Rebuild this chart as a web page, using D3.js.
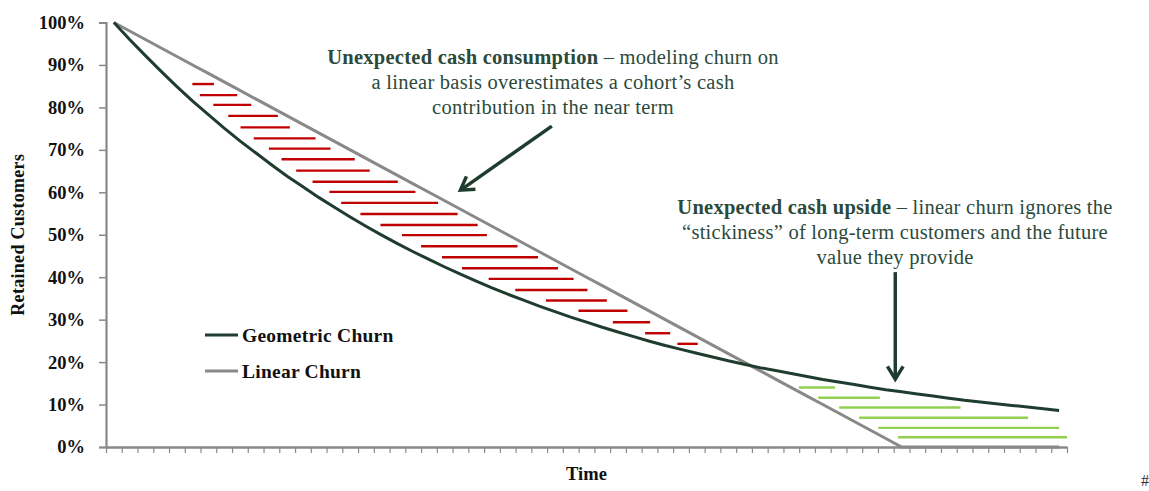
<!DOCTYPE html>
<html>
<head>
<meta charset="utf-8">
<script src="https://cdn.jsdelivr.net/npm/d3@7"></script>
<style>
  body { margin: 0; background: #fff; }
  text { font-family: "Liberation Serif", "DejaVu Serif", serif; }
</style>
</head>
<body>
<div id="chart"></div>
<script>
// time periods (categories)
var periods = d3.range(61);

// retained customers, % of cohort
var geometric = [100, 96, 92.2, 88.5, 84.9, 81.5, 78.3, 75.1, 72.1, 69.3,
    66.5, 63.8, 61.3, 58.8, 56.5, 54.2, 52.0, 49.9, 47.9, 46.0,
    44.2, 42.4, 40.7, 39.1, 37.5, 36.0, 34.6, 33.2, 31.9, 30.6,
    29.4, 28.2, 27.1, 26.0, 24.9, 23.9, 23.0, 22.1, 21.2, 20.3,
    19.5, 18.7, 18.0, 17.3, 16.6, 15.9, 15.3, 14.7, 14.1, 13.5,
    13.0, 12.5, 12.0, 11.5, 11.0, 10.6, 10.2, 9.8, 9.4, 9.0, 8.6];
var linear = [100, 98, 96, 94, 92, 90, 88, 86, 84, 82,
    80, 78, 76, 74, 72, 70, 68, 66, 64, 62,
    60, 58, 56, 54, 52, 50, 48, 46, 44, 42,
    40, 38, 36, 34, 32, 30, 28, 26, 24, 22,
    20, 18, 16, 14, 12, 10, 8, 6, 4, 2,
    0, 0, 0, 0, 0, 0, 0, 0, 0, 0, 0];

var yTicks = [0, 10, 20, 30, 40, 50, 60, 70, 80, 90, 100];

// hatch between the curves: level (%), start and end (period)
var redLevel = [85.5, 82.9, 80.6, 78.0, 75.3, 72.7, 70.3, 67.8, 65.1, 62.5, 60.1, 57.5, 54.9,
    52.3, 49.9, 47.3, 44.7, 42.1, 39.6, 37.0, 34.5, 32.1, 29.4, 26.8, 24.3];
var redStart = [4.98, 5.46, 6.31, 7.26, 8.04, 8.88, 9.84, 10.64, 11.57, 12.61, 13.68, 14.43, 15.65,
    16.92, 18.29, 19.5, 20.83, 22.1, 23.79, 25.48, 27.43, 29.49, 31.67, 33.72, 35.77];
var redEnd = [6.35, 7.83, 8.72, 10.41, 11.17, 12.8, 13.75, 15.29, 16.24, 18.02, 19.14, 20.58, 21.82,
    23.09, 23.68, 25.62, 26.92, 28.19, 29.18, 30.06, 31.29, 32.6, 34.04, 35.31, 37.06];

var greenLevel = [14.0, 11.6, 9.3, 6.9, 4.5, 2.3];
var greenStart = [43.48, 44.71, 46.04, 47.31, 48.52, 49.78];
var greenEnd = [45.77, 48.62, 53.74, 58.03, 60.0, 60.5];

function init()
{
    const width = 1149;
    const height = 491;
    var dark = "#1f3d2e";
    var grey = "#898989";
    var textColor = "#2b4a3b";

    var svg = d3.select("#chart")
        .append("svg")
        .attr("width", width)
        .attr("height", height);

    svg.append("rect")
        .attr("width", width)
        .attr("height", height)
        .attr("fill", "#fff");

    var x = d3.scaleLinear()
        .domain([-0.5, periods.length - 0.5])
        .range([106, 1067]);

    var y = d3.scaleLinear()
        .domain([0, 100])
        .range([447, 22.5]);

    // y axis
    var yAxis = svg.append("g")
        .attr("transform", "translate(" + x(-0.5) + ",0)")
        .call(d3.axisLeft(y).tickValues(yTicks).tickSize(7).tickPadding(14)
            .tickFormat(function(d){ return d + "%"; }));
    yAxis.select(".domain").attr("stroke", grey).attr("stroke-width", 2.2);
    yAxis.selectAll(".tick line").attr("stroke", grey).attr("stroke-width", 1.5);
    yAxis.selectAll(".tick text")
        .attr("fill", "#111")
        .attr("font-size", 18.5)
        .attr("font-weight", "bold")
        .attr("font-family", "Liberation Serif");

    // x axis
    var bounds = d3.range(periods.length + 1).map(function(i){ return i - 0.5; });
    var xAxis = svg.append("g")
        .attr("transform", "translate(0," + y(0) + ")")
        .call(d3.axisBottom(x).tickValues(bounds).tickSize(6).tickSizeOuter(0)
            .tickFormat(""));
    xAxis.select(".domain").attr("stroke", grey).attr("stroke-width", 2.6);
    xAxis.selectAll(".tick line").attr("stroke", grey).attr("stroke-width", 1.2);

    // axis titles
    svg.append("text")
        .attr("transform", "translate(24," + y(50) + ") rotate(-90)")
        .attr("text-anchor", "middle")
        .attr("font-size", 18)
        .attr("font-weight", "bold")
        .attr("letter-spacing", 0.3)
        .attr("fill", "#111")
        .text("Retained Customers");

    svg.append("text")
        .attr("x", x(30))
        .attr("y", 480)
        .attr("text-anchor", "middle")
        .attr("font-size", 18.5)
        .attr("font-weight", "bold")
        .attr("fill", "#111")
        .text("Time");

    // hatching
    svg.selectAll("line.red")
        .data(redLevel)
        .enter()
        .append("line")
        .attr("class", "red")
        .attr("x1", function(d, i){ return x(redStart[i]); })
        .attr("x2", function(d, i){ return x(redEnd[i]); })
        .attr("y1", function(d){ return y(d); })
        .attr("y2", function(d){ return y(d); })
        .attr("stroke", "#c00000")
        .attr("stroke-width", 2.4);

    svg.selectAll("line.green")
        .data(greenLevel)
        .enter()
        .append("line")
        .attr("class", "green")
        .attr("x1", function(d, i){ return x(greenStart[i]); })
        .attr("x2", function(d, i){ return x(greenEnd[i]); })
        .attr("y1", function(d){ return y(d); })
        .attr("y2", function(d){ return y(d); })
        .attr("stroke", "#92d050")
        .attr("stroke-width", 2.4);

    // churn curves
    var line = d3.line()
        .x(function(d){ return x(d[0]); })
        .y(function(d){ return y(d[1]); });

    svg.append("path")
        .datum(periods.map(function(p, i){ return [p, linear[i]]; }))
        .attr("fill", "none")
        .attr("stroke", grey)
        .attr("stroke-width", 3)
        .attr("d", line);

    svg.append("path")
        .datum(periods.map(function(p, i){ return [p, geometric[i]]; }))
        .attr("fill", "none")
        .attr("stroke", dark)
        .attr("stroke-width", 3)
        .attr("d", line);

    // legend
    var legend = [["Geometric Churn", dark, 335], ["Linear Churn", grey, 371]];
    var lg = svg.selectAll("g.legend")
        .data(legend)
        .enter()
        .append("g")
        .attr("class", "legend")
        .attr("transform", function(d){ return "translate(205," + d[2] + ")"; });
    lg.append("line")
        .attr("x1", 0)
        .attr("x2", 33)
        .attr("stroke", function(d){ return d[1]; })
        .attr("stroke-width", 3.2);
    lg.append("text")
        .attr("x", 37)
        .attr("y", 6.5)
        .attr("font-size", 19.5)
        .attr("font-weight", "bold")
        .attr("letter-spacing", 0.25)
        .attr("fill", "#111")
        .text(function(d){ return d[0]; });

    // annotations
    function note(cx, top, lines)
    {
        lines.forEach(function(l, i){
            var t = svg.append("text")
                .attr("x", cx)
                .attr("y", top + i * 25)
                .attr("text-anchor", "middle")
                .attr("font-size", 20.5)
                .attr("letter-spacing", 0.25)
                .attr("fill", textColor);
            l.forEach(function(part){
                t.append("tspan")
                    .attr("font-weight", part[1] ? "bold" : "normal")
                    .text(part[0]);
            });
        });
    }

    note(553, 64, [
        [["Unexpected cash consumption", true], [" \u2013 modeling churn on", false]],
        [["a linear basis overestimates a cohort\u2019s cash", false]],
        [["contribution in the near term", false]]
    ]);

    note(895, 214, [
        [["Unexpected cash upside", true], [" \u2013 linear churn ignores the", false]],
        [["\u201cstickiness\u201d of long-term customers and the future", false]],
        [["value they provide", false]]
    ]);

    // arrows, in data units [period, %]
    var arrows = [
        [[27.8, 75.6], [22.0, 60.5]],
        [[49.6, 41.2], [49.6, 16.0]]
    ];
    arrows.forEach(function(a){
        var x1 = x(a[0][0]), y1 = y(a[0][1]), x2 = x(a[1][0]), y2 = y(a[1][1]);
        var ang = Math.atan2(y2 - y1, x2 - x1);
        var h = 15, spread = 0.55;
        svg.append("line")
            .attr("x1", x1).attr("y1", y1)
            .attr("x2", x2 - Math.cos(ang) * 1.5).attr("y2", y2 - Math.sin(ang) * 1.5)
            .attr("stroke", dark)
            .attr("stroke-width", 3.5);
        svg.append("path")
            .attr("d", "M" + (x2 - h * Math.cos(ang - spread)) + "," + (y2 - h * Math.sin(ang - spread)) +
                "L" + x2 + "," + y2 +
                "L" + (x2 - h * Math.cos(ang + spread)) + "," + (y2 - h * Math.sin(ang + spread)))
            .attr("fill", "none")
            .attr("stroke", dark)
            .attr("stroke-width", 3.5)
            .attr("stroke-linejoin", "miter");
    });

    svg.append("text")
        .attr("x", 1141)
        .attr("y", 486)
        .attr("font-size", 16)
        .attr("fill", "#333")
        .text("#");
}

init();
</script>
</body>
</html>
